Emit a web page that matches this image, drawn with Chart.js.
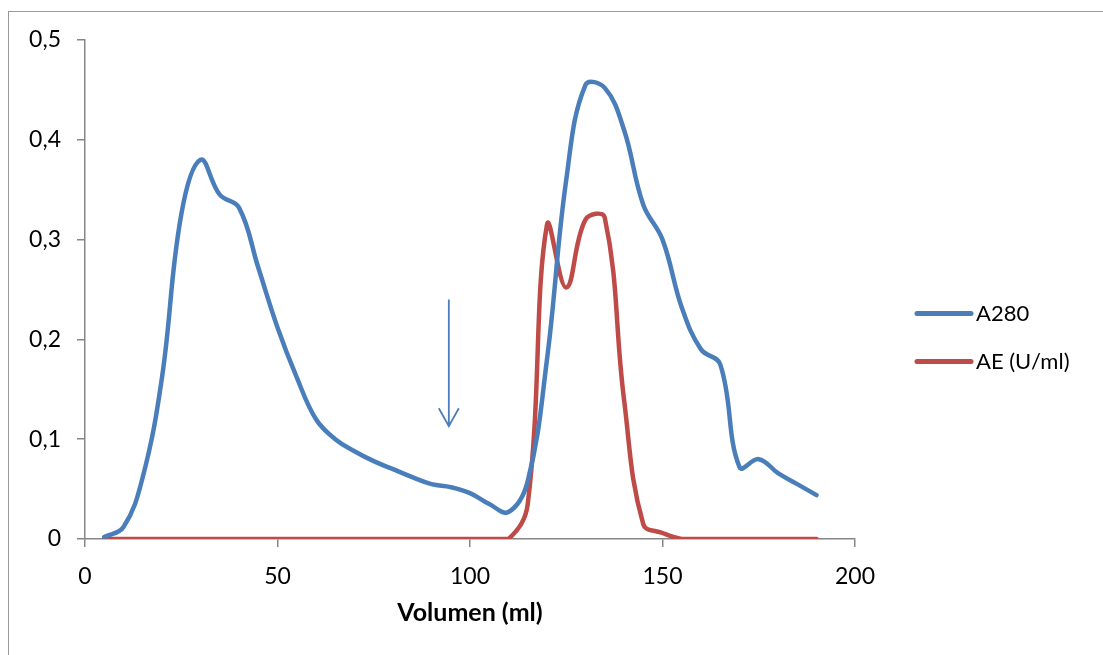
<!DOCTYPE html>
<html>
<head>
<meta charset="utf-8">
<script src="https://cdn.jsdelivr.net/npm/chart.js@4/dist/chart.umd.min.js"></script>
<style>
    body { margin: 0; background: #fff; overflow: hidden; }
    #wrap { position: relative; width: 1103px; height: 655px; }
    #frame { position: absolute; left: 8px; top: 11px; width: 1200px; height: 700px; border: 1px solid #9a9a9a; }
    canvas { position: absolute; left: 0; top: 0; }
</style>
</head>
<body>
<div id="wrap">
    <div id="frame"></div>
    <canvas id="myChart" width="1103" height="655"></canvas>
</div>
<script>
const volumes = [5, 10, 15, 20, 25, 30, 35, 40, 45, 50, 55, 60, 65, 70, 75, 80, 85, 90, 95, 100,
    105, 110, 115, 120, 125, 130, 135, 140, 145, 150, 155, 160, 165, 170, 175, 180, 185, 190];
const a280 = [0.002, 0.012, 0.062, 0.162, 0.325, 0.38, 0.345, 0.332, 0.272, 0.212, 0.162, 0.12, 0.1, 0.088,
    0.078, 0.07, 0.062, 0.055, 0.052, 0.046, 0.035, 0.027, 0.058, 0.18, 0.36, 0.455, 0.452, 0.41, 0.335,
    0.3, 0.232, 0.19, 0.175, 0.072, 0.08, 0.066, 0.055, 0.044];
const aeUml = [0, 0, 0, 0, 0, 0, 0, 0, 0, 0, 0, 0, 0, 0, 0, 0, 0, 0, 0, 0,
    0, 0, 0.035, 0.315, 0.252, 0.32, 0.322, 0.14, 0.015, 0.006, 0, 0, 0, 0, 0, 0, 0, 0];
const seriesNames = ['A280', 'AE (U/ml)'];
const xTicks = [0, 50, 100, 150, 200];
const yTickLabels = ['0', '0,1', '0,2', '0,3', '0,4', '0,5'];
// arrow marking where elution starts (x, y top, y bottom)
const arrowX = 94.5;
const arrowY = [0.24, 0.113];

const blue = '#4A7EBB';
const red = '#BE4B48';
const axisGray = '#868686';
const fontName = 'Lato, "Liberation Sans", sans-serif';

const toPoints = (vals) => volumes.map((v, i) => ({ x: v, y: vals[i] }));

// draws the little arrow through the chart scales
const arrowPlugin = {
    id: 'arrow',
    afterDatasetsDraw(chart) {
        const { ctx, scales } = chart;
        const x = scales.x.getPixelForValue(arrowX);
        const y1 = scales.y.getPixelForValue(arrowY[0]);
        const y2 = scales.y.getPixelForValue(arrowY[1]);
        ctx.save();
        ctx.strokeStyle = blue;
        ctx.lineWidth = 1.8;
        ctx.beginPath();
        ctx.moveTo(x, y1);
        ctx.lineTo(x, y2);
        ctx.moveTo(x - 10, y2 - 18);
        ctx.lineTo(x, y2);
        ctx.lineTo(x + 10, y2 - 18);
        ctx.stroke();
        ctx.restore();
    }
};

// Excel-like legend to the right of the plot
const sideLegend = {
    id: 'sideLegend',
    afterDraw(chart) {
        const { ctx, chartArea } = chart;
        const x0 = chartArea.right + 62;
        const yMid = (chartArea.top + chartArea.bottom) / 2;
        const rowGap = 48;
        ctx.save();
        ctx.font = '22px ' + fontName;
        ctx.textBaseline = 'middle';
        ctx.lineCap = 'round';
        chart.data.datasets.forEach((ds, i) => {
            const y = yMid + 24 + i * rowGap;
            ctx.strokeStyle = ds.borderColor;
            ctx.lineWidth = 5;
            ctx.beginPath();
            ctx.moveTo(x0, y);
            ctx.lineTo(x0 + 54, y);
            ctx.stroke();
            ctx.fillStyle = '#000';
            ctx.fillText(ds.label, x0 + 59, y);
        });
        ctx.restore();
    }
};

const ctx = document.getElementById('myChart');
new Chart(ctx, {
    type: 'line',
    data: {
        datasets: [{
            label: seriesNames[0],
            data: toPoints(a280),
            borderColor: blue,
            backgroundColor: blue,
            borderWidth: 4.5,
            borderCapStyle: 'round',
            pointRadius: 0,
            tension: 0.4
        }, {
            label: seriesNames[1],
            data: toPoints(aeUml),
            borderColor: red,
            backgroundColor: red,
            borderWidth: 4.5,
            borderCapStyle: 'round',
            pointRadius: 0,
            tension: 0.4
        }]
    },
    options: {
        responsive: false,
        animation: false,
        layout: { padding: { left: 22, top: 40, right: 248, bottom: 26 } },
        plugins: {
            tooltip: { enabled: false },
            legend: { display: false }
        },
        scales: {
            x: {
                type: 'linear',
                min: 0,
                max: 200,
                afterBuildTicks: (axis) => { axis.ticks = xTicks.map(v => ({ value: v })); },
                afterFit: (axis) => { axis.height = 90; },
                grid: { drawOnChartArea: false, color: axisGray, tickLength: 8, lineWidth: 1.5 },
                border: { color: axisGray, width: 1.5 },
                ticks: { color: '#000', padding: 16, maxRotation: 0, font: { family: fontName, size: 23 } },
                title: {
                    display: true,
                    text: 'Volumen (ml)',
                    color: '#000',
                    padding: { top: 4, bottom: 1 },
                    font: { family: fontName, size: 25, weight: 'bold' }
                }
            },
            y: {
                min: 0,
                max: 0.5,
                afterFit: (axis) => { axis.width = 63; },
                ticks: {
                    stepSize: 0.1,
                    color: '#000',
                    padding: 16,
                    font: { family: fontName, size: 23 },
                    callback: (value, index) => yTickLabels[index]
                },
                grid: { drawOnChartArea: false, color: axisGray, tickLength: 8, lineWidth: 1.5 },
                border: { color: axisGray, width: 1.5 }
            }
        }
    },
    plugins: [arrowPlugin, sideLegend]
});
</script>
</body>
</html>
